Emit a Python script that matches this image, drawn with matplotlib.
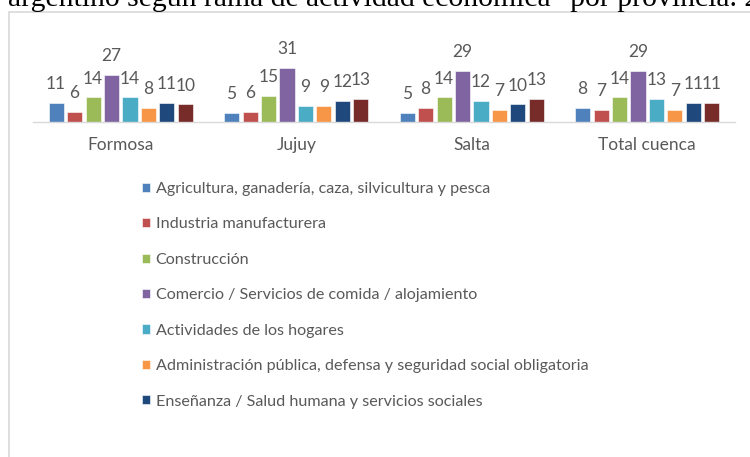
import numpy as np
import matplotlib
matplotlib.use("Agg")
import matplotlib.pyplot as plt
from matplotlib.patches import Rectangle

# datos (porcentajes por rama y provincia)
provincias = ["Formosa", "Jujuy", "Salta", "Total cuenca"]
ramas = [
    "Agricultura, ganadería, caza, silvicultura y pesca",
    "Industria manufacturera",
    "Construcción",
    "Comercio / Servicios de comida / alojamiento",
    "Actividades de los hogares",
    "Administración pública, defensa y seguridad social obligatoria",
    "Enseñanza / Salud humana y servicios sociales",
    "Otras actividades",
]
agricultura = [11, 5, 5, 8]
industria = [6, 6, 8, 7]
construccion = [14, 15, 14, 14]
comercio = [27, 31, 29, 29]
hogares = [14, 9, 12, 13]
administracion = [8, 9, 7, 7]
ensenanza = [11, 12, 10, 11]
otras = [10, 13, 13, 11]

series = [agricultura, industria, construccion, comercio,
          hogares, administracion, ensenanza, otras]
colores = ["#4F81BD", "#C0504D", "#9BBB59", "#8064A2",
           "#4BACC6", "#F79646", "#1F497D", "#772C2A"]

plt.rcParams['font.family'] = ['Lato', 'DejaVu Sans']
gris = "#595959"

fig = plt.figure(figsize=(7.5, 4.57), dpi=100)

# marco del gráfico
fig.patches.append(Rectangle((9 / 750, -0.1), 1.0, 1 - 12 / 457 + 0.1,
                             transform=fig.transFigure, fill=False,
                             edgecolor="#d9d9d9", lw=1.2))

# título cortado arriba
fig.text(8 / 750, 1 - 6 / 457,
         'argentino según rama de actividad económica" por provincia. 2',
         family="Liberation Serif", fontsize=21.3, va="baseline", ha="left",
         color="black")

ax = fig.add_axes([33 / 750, 1 - 122 / 457, 702 / 750, 110 / 457])
x = np.arange(len(provincias))
paso = 0.1054
ancho = 0.0855
handles = []
for i, (vals, col) in enumerate(zip(series, colores)):
    pos = x + (i - 3.5) * paso
    b = ax.bar(pos, vals, width=ancho, color=col, edgecolor="white",
               linewidth=0.4, label=ramas[i])
    handles.append(b)
    for p, v in zip(pos, vals):
        ax.annotate(str(v), (p, v), xytext=(0, 10), textcoords="offset points",
                    ha="center", va="baseline", fontsize=12.5, color=gris)

ax.set_xlim(-0.5, 3.5)
ax.set_ylim(0, 110 / 1.75)
ax.set_xticks(x)
ax.set_xticklabels(provincias, fontsize=12.5, color=gris)
ax.tick_params(axis="x", length=0, pad=11)
ax.set_yticks([])
for s in ["top", "right", "left"]:
    ax.spines[s].set_visible(False)
ax.spines["bottom"].set_color("#d9d9d9")
ax.spines["bottom"].set_linewidth(1)
ax.patch.set_visible(False)

fig.legend(handles[:7], ramas[:7], loc="upper left",
           bbox_to_anchor=(142 / 750, 1 - 182 / 457), frameon=False,
           fontsize=11.6, labelcolor=gris, handlelength=0.5, handleheight=0.5,
           handletextpad=0.35, labelspacing=1.33, borderpad=0, borderaxespad=0)

fig.savefig("out.png", dpi=100)
